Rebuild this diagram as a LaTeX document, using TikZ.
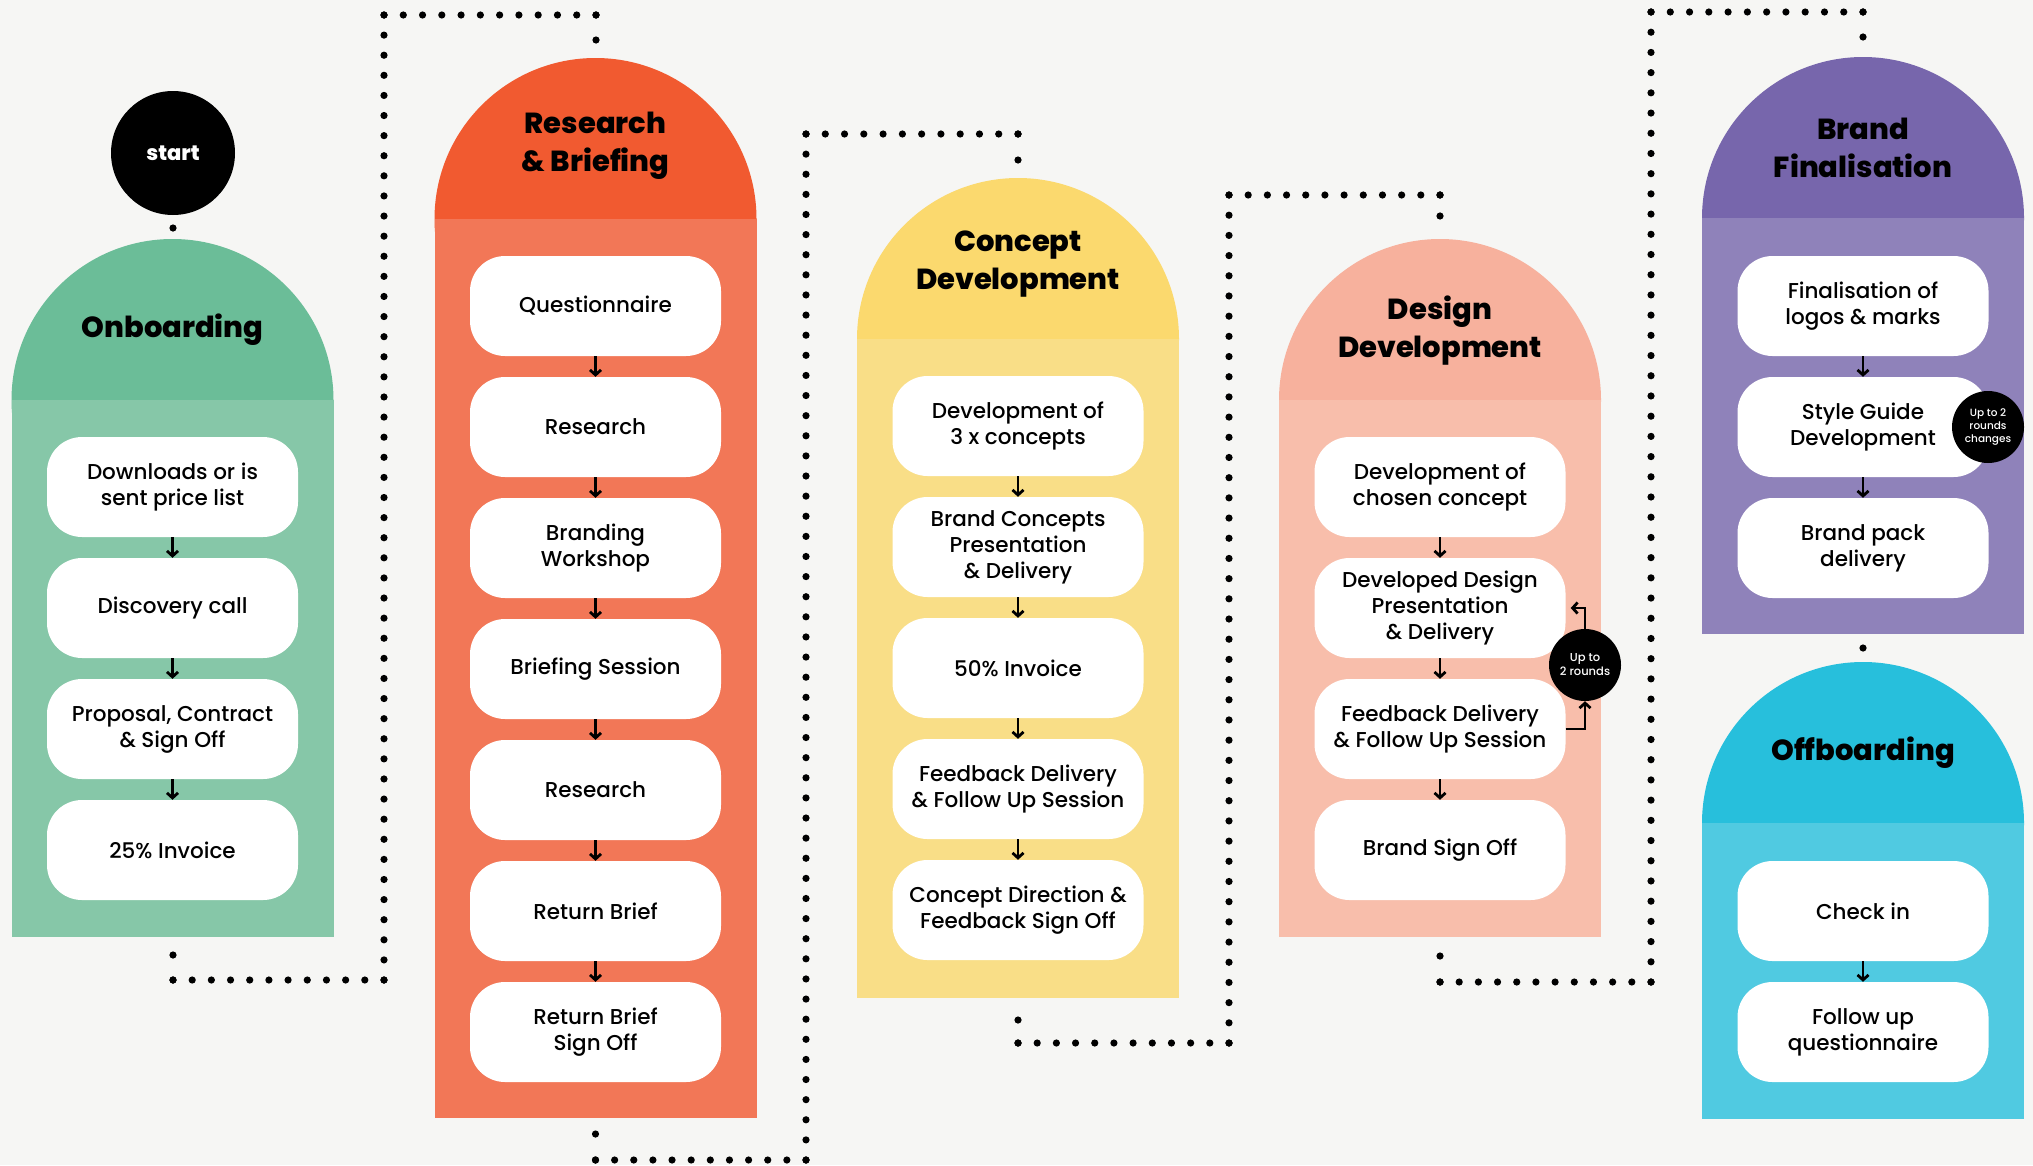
\documentclass[tikz,border=0pt]{standalone}
\usepackage{fontspec}
\setmainfont{Poppins}
\newfontfamily\boxfont{Poppins Medium}
\newfontfamily\titlefont{Poppins ExtraBold}
\usetikzlibrary{arrows.meta,calc}
\definecolor{bg}{HTML}{F6F6F4}
\definecolor{onH}{HTML}{6BBD98}
\definecolor{onB}{HTML}{86C7A8}
\definecolor{reH}{HTML}{F15A30}
\definecolor{reB}{HTML}{F27757}
\definecolor{coH}{HTML}{FBD96E}
\definecolor{coB}{HTML}{F9DE87}
\definecolor{deH}{HTML}{F7B19D}
\definecolor{deB}{HTML}{F8BEAB}
\definecolor{brH}{HTML}{7766AC}
\definecolor{brB}{HTML}{8F82BA}
\definecolor{ofH}{HTML}{27BFDC}
\definecolor{ofB}{HTML}{50CAE1}
\newcommand\dotseg[3]{\foreach \i in {0,...,#3}{\fill ($(#1)!\i/#3!(#2)$) circle (3.6);}}
\begin{document}
\begin{tikzpicture}[x=1pt,y=-1pt,
  hd/.style={circle,inner sep=0pt,outer sep=0pt,minimum size=322pt,fill=#1},
  bd/.style={rectangle,inner sep=0pt,outer sep=0pt,minimum width=322pt,fill=#1},
  bx/.style={rectangle,rounded corners=35pt,fill=white,minimum width=251pt,minimum height=100pt,
    inner sep=0pt,align=center,font=\boxfont\fontsize{21.5}{26}\selectfont},
  ttl/.style={align=center,font=\titlefont\fontsize{29}{38}\selectfont},
  blackc/.style={circle,fill=black,inner sep=0pt,text=white,align=center},
  arr/.style={line width=2.8pt,-{Straight Barb[length=5pt,width=11pt]}},
]
\fill[bg] (0,0) rectangle (2033,1165);

% ---------- Onboarding ----------
\node[hd=onH] (onhead) at (172.5,400) {};
\node[bd=onB,minimum height=537pt] (onbody) at (172.5,668.5) {};
\node[ttl] (ontitle) at (172.5,330) {Onboarding};
\node[bx] (o1) at (172.5,487) {Downloads or is\\sent price list};
\node[bx] (o2) at (172.5,608) {Discovery call};
\node[bx] (o3) at (172.5,729) {Proposal, Contract\\\& Sign Off};
\node[bx] (o4) at (172.5,850) {25\% Invoice};
\node[blackc,minimum size=124pt,font=\titlefont\fontsize{21}{24}\selectfont] (start) at (173,153) {start};

% ---------- Research & Briefing ----------
\node[hd=reH] (rehead) at (595.5,219) {};
\node[bd=reB,minimum height=899pt] (rebody) at (595.5,668.5) {};
\node[ttl] (retitle) at (595.5,146) {Research\\\& Briefing};
\node[bx] (r1) at (595.5,306) {Questionnaire};
\node[bx] (r2) at (595.5,427) {Research};
\node[bx] (r3) at (595.5,548) {Branding\\Workshop};
\node[bx] (r4) at (595.5,669) {Briefing Session};
\node[bx] (r5) at (595.5,790) {Research};
\node[bx] (r6) at (595.5,911) {Return Brief};
\node[bx] (r7) at (595.5,1032) {Return Brief\\Sign Off};

% ---------- Concept Development ----------
\node[hd=coH] (cohead) at (1018,339) {};
\node[bd=coB,minimum height=659pt] (cobody) at (1018,668.5) {};
\node[ttl] (cotitle) at (1018,264) {Concept\\Development};
\node[bx] (c1) at (1018,426) {Development of\\3 x concepts};
\node[bx] (c2) at (1018,547) {Brand Concepts\\Presentation\\\& Delivery};
\node[bx] (c3) at (1018,668) {50\% Invoice};
\node[bx] (c4) at (1018,789) {Feedback Delivery\\\& Follow Up Session};
\node[bx] (c5) at (1018,910) {Concept Direction \&\\Feedback Sign Off};

% ---------- Design Development ----------
\node[hd=deH] (dehead) at (1440,400) {};
\node[bd=deB,minimum height=537pt] (debody) at (1440,668.5) {};
\node[ttl] (detitle) at (1440,331) {Design\\Development};
\node[bx] (d1) at (1440,487) {Development of\\chosen concept};
\node[bx] (d2) at (1440,608) {Developed Design\\Presentation\\\& Delivery};
\node[bx] (d3) at (1440,729) {Feedback Delivery\\\& Follow Up Session};
\node[bx] (d4) at (1440,850) {Brand Sign Off};
\node[blackc,minimum size=72pt,font=\boxfont\fontsize{11.5}{14}\selectfont] (loopa) at (1585,665) {Up to\\2 rounds};

% ---------- Brand Finalisation ----------
\node[hd=brH] (brhead) at (1863,218) {};
\node[bd=brB,minimum height=416pt] (brbody) at (1863,426) {};
\node[ttl] (brtitle) at (1863,148) {Brand\\Finalisation};
\node[bx] (b1) at (1863,306) {Finalisation of\\logos \& marks};
\node[bx] (b2) at (1863,427) {Style Guide\\Development};
\node[bx] (b3) at (1863,548) {Brand pack\\delivery};
\node[blackc,minimum size=72pt,font=\boxfont\fontsize{10.5}{13}\selectfont] (loopb) at (1988,427) {Up to 2\\rounds\\changes};

% ---------- Offboarding ----------
\node[hd=ofH] (ofhead) at (1863,823) {};
\node[bd=ofB,minimum height=296pt] (ofbody) at (1863,971) {};
\node[ttl] (oftitle) at (1863,753) {Offboarding};
\node[bx] (f1) at (1863,911) {Check in};
\node[bx] (f2) at (1863,1032) {Follow up\\questionnaire};

% ---------- step arrows ----------
\foreach \a/\b in {o1/o2,o2/o3,o3/o4,r1/r2,r2/r3,r3/r4,r4/r5,r5/r6,r6/r7,
  c1/c2,c2/c3,c3/c4,c4/c5,d1/d2,d2/d3,d3/d4,b1/b2,b2/b3,f1/f2}
  \draw[arr] (\a.south) -- (\b.north);
\draw[arr] (d3.east) -| (loopa.south);
\draw[arr] (loopa.north) |- ([xshift=5pt]d2.east);

% ---------- dotted connectors ----------
\coordinate (s0) at (173,228);
\fill (s0) circle (3.6);
\coordinate (a0) at (173,955); \coordinate (a1) at (173,980);
\coordinate (a2) at (384,980); \coordinate (a3) at (384,15);
\coordinate (a4) at (596,15);  \coordinate (a5) at (596,40);
\dotseg{a0}{a1}{1}\dotseg{a1}{a2}{11}\dotseg{a2}{a3}{48}\dotseg{a3}{a4}{11}\dotseg{a4}{a5}{1}
\coordinate (b0) at (595.5,1134); \coordinate (b1) at (595.5,1160);
\coordinate (b2) at (806,1160); \coordinate (b3) at (806,134);
\coordinate (b4) at (1018,134); \coordinate (b5) at (1018,160);
\dotseg{b0}{b1}{1}\dotseg{b1}{b2}{11}\dotseg{b2}{b3}{51}\dotseg{b3}{b4}{11}\dotseg{b4}{b5}{1}
\coordinate (c0) at (1018,1020); \coordinate (cc1) at (1018,1043);
\coordinate (cc2) at (1229,1043); \coordinate (cc3) at (1229,195);
\coordinate (cc4) at (1440,195); \coordinate (cc5) at (1440,216);
\dotseg{c0}{cc1}{1}\dotseg{cc1}{cc2}{11}\dotseg{cc2}{cc3}{42}\dotseg{cc3}{cc4}{11}\dotseg{cc4}{cc5}{1}
\coordinate (e0) at (1440,956); \coordinate (e1) at (1440,982);
\coordinate (e2) at (1651,982); \coordinate (e3) at (1651,12);
\coordinate (e4) at (1863,12); \coordinate (e5) at (1863,37);
\dotseg{e0}{e1}{1}\dotseg{e1}{e2}{11}\dotseg{e2}{e3}{48}\dotseg{e3}{e4}{11}\dotseg{e4}{e5}{1}
\coordinate (g0) at (1863,648);
\fill (g0) circle (3.6);
\end{tikzpicture}
\end{document}
